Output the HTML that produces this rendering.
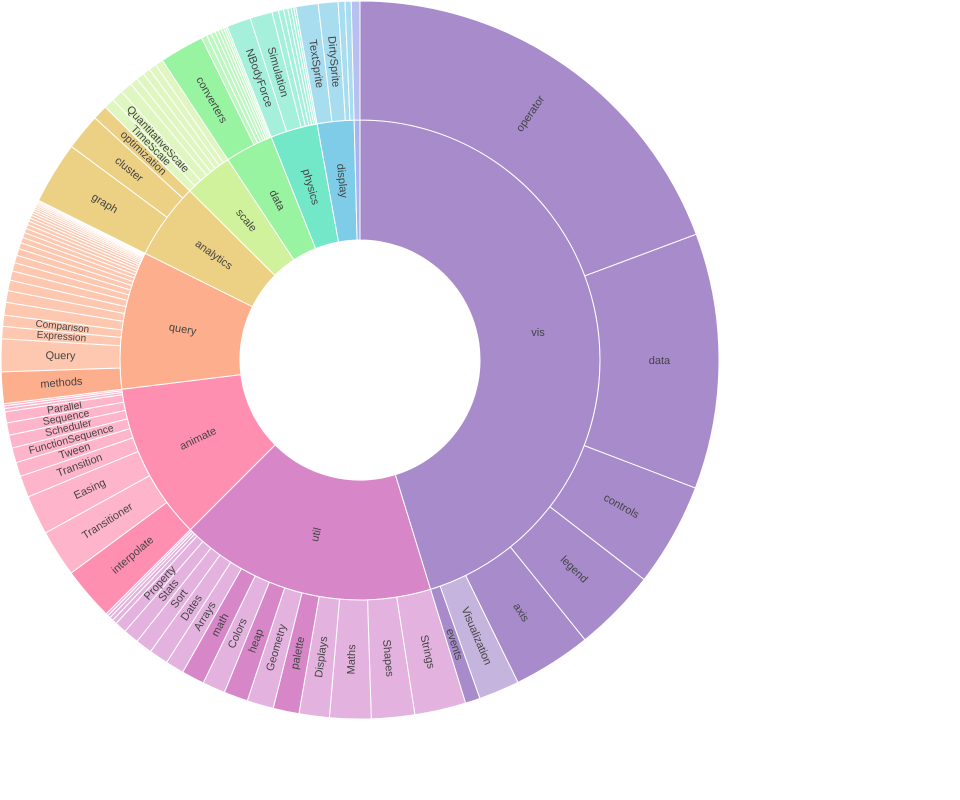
<!DOCTYPE html>
<html><head><meta charset="utf-8"><style>
html,body{margin:0;padding:0;background:#fff;width:960px;height:800px;overflow:hidden}
text{font-family:"Liberation Sans",sans-serif;fill:#444}
</style></head><body>
<svg id="s" width="960" height="800" xmlns="http://www.w3.org/2000/svg"></svg>
<script>
var cx=360,cy=360,R0=120,R1=240,R2=359;
var svg=document.getElementById('s');
var out='';
function pt(r,a){a=a*Math.PI/180;return [cx+r*Math.sin(a),cy-r*Math.cos(a)];}
function arc(a0,a1,r0,r1,col,lab,fs){
  var p1=pt(r1,a0),p2=pt(r1,a1),p3=pt(r0,a1),p4=pt(r0,a0);
  var lg=(a1-a0)>180?1:0;
  out+='<path d="M'+p1[0].toFixed(2)+','+p1[1].toFixed(2)+'A'+r1+','+r1+' 0 '+lg+' 1 '+p2[0].toFixed(2)+','+p2[1].toFixed(2)+'L'+p3[0].toFixed(2)+','+p3[1].toFixed(2)+'A'+r0+','+r0+' 0 '+lg+' 0 '+p4[0].toFixed(2)+','+p4[1].toFixed(2)+'Z" fill="'+col+'" stroke="#fff" stroke-width="1"/>';
  if(lab){
    var m=(a0+a1)/2,rm=(r0+r1)/2,c=pt(rm,m);
    var rot=(m<180)?m-90:m+90;
    if(lab=='vis')rot=0;
    out+='<text x="'+c[0].toFixed(1)+'" y="'+c[1].toFixed(1)+'" font-size="'+(fs||11)+'" text-anchor="middle" dominant-baseline="central" transform="rotate('+rot.toFixed(1)+' '+c[0].toFixed(1)+' '+c[1].toFixed(1)+')">'+lab+'</text>';
  }
}
// inner ring
var inner=[[0,162.9,'#a78bcb','vis'],[162.9,225,'#d787c8','util'],[225,263,'#fe8fb1','animate'],[263,296.4,'#fdae8d','query'],[296.4,314.8,'#ecd083','analytics'],[314.8,326.6,'#d1f29d','scale'],[326.6,338.3,'#98f4a0','data'],[338.3,349.7,'#73e8c8','physics'],[349.7,358.6,'#7fcce8','display'],[358.6,360,'#a8b4ee','']];
inner.forEach(function(d){arc(d[0],d[1],R0,R1,d[2],d[3],11);});
var O=[];
function add(bounds,cols,labs,fs){for(var i=0;i<bounds.length-1;i++)O.push([bounds[i],bounds[i+1],cols[i]||cols[cols.length-1],labs[i]||'',fs&&fs[i]]);}
function seq(a,b,n,f){var w=[],s=0;for(var i=0;i<n;i++){w.push(Math.pow(f,i));s+=w[i];}var r=[a],c=a;for(i=0;i<n;i++){c+=(b-a)*w[i]/s;r.push(c);}return r;}
var V='#a78bcb',VL='#c5b4dd';
add([0,69.5,110.9,127.7,141.2,153.9,160.5,162.9],[V,V,V,V,V,VL,V],['operator','data','controls','legend','axis','Visualization','events']);
var U='#d787c8',UL='#e4b2df';
add([162.9,171.2,178.2,184.9,189.8,194.0,198.3,202.2,205.9,209.6,212.6,215.7,218.4,220.9,222.8],[UL,UL,UL,UL,U,UL,U,UL,U,UL,UL,UL,UL,UL],['Strings','Shapes','Maths','Displays','palette','Geometry','heap','Colors','math','Arrays','Dates','Sort','Stats','Property']);
add(seq(222.8,225,4,0.8),[UL],[]);
var A='#fe8fb1',AL='#feb5cb';
add([225,233.6,241.2,247.6,251.1,253.4,255.8,257.9,259.9,261.7],[A,AL],['interpolate','Transitioner','Easing','Transition','Tween','FunctionSequence','Scheduler','Sequence','Parallel'],[11,11,11,11,11,10.5,10.5,10.5,10.5]);
add(seq(261.7,263,3,0.8),[AL],[]);
var Q='#fdae8d',QL='#fec8b0';
add([263,268.1,273.4,275.4,277.2],[Q,QL,QL,QL],['methods','Query','Expression','Comparison'],[11,11,10,10]);
add(seq(277.2,296.4,24,0.9),[QL],[]);
var AN='#ecd083';
add([296.4,306.5,312.4,314.8],[AN],['graph','cluster','optimization']);
var S='#d1f29d',SL='#e0f6c0';
add([314.8,316.5,318.4,320.3,321.6,322.9,324.1,325.3,326.6],[SL],['TimeScale','QuantitativeScale'],[11,11]);
var D='#98f4a0',DL='#bdf7c0';
add([326.6,333.8],[D],['converters']);
add(seq(333.8,338.3,8,0.85),[DL],[]);
var P='#73e8c8',PL='#a5f0da';
add([338.3,342.2,345.8],[PL],['NBodyForce','Simulation']);
add(seq(345.8,349.7,6,0.8),[PL],[]);
var DS='#7fcce8',DSL='#a8dcef';
add([349.7,353.3,356.5,357.6,358.6],[DSL],['TextSprite','DirtySprite']);
add([358.6,360],['#b7c0ef'],['']);
O.forEach(function(d){arc(d[0],d[1],R1,R2,d[2],d[3],d[4]||11);});
svg.innerHTML=out;
</script>
</body></html>
